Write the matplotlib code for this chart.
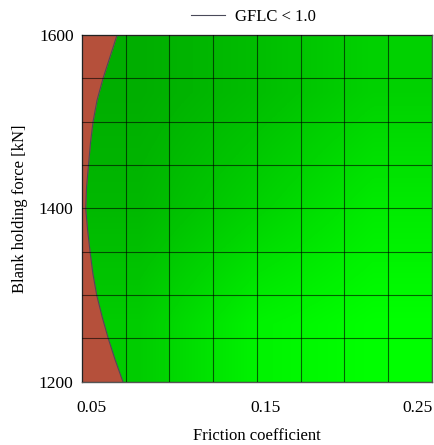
import numpy as np
import matplotlib.pyplot as plt
from matplotlib.colors import LinearSegmentedColormap
from matplotlib.transforms import ScaledTranslation

plt.rcParams['font.family'] = ['Liberation Serif', 'DejaVu Serif']

# GFLC = 1.0 boundary (force [kN] -> friction coefficient)
force = [1200, 1225, 1250, 1275, 1300, 1325, 1350, 1375, 1400,
         1425, 1450, 1475, 1500, 1525, 1550, 1575, 1600]
mu_limit = [0.0734, 0.069, 0.065, 0.0615, 0.0584, 0.0562, 0.0546, 0.0532, 0.0521,
            0.0526, 0.0537, 0.0548, 0.0563, 0.0586, 0.062, 0.066, 0.070]

# shading level of the safe zone (rows: 1600, 1400, 1200 / cols: 0.05, 0.15, 0.25)
green_level = [[0.68, 0.74, 0.82],
               [0.72, 0.82, 0.92],
               [0.80, 0.95, 1.00]]

x_ticks = [0.05, 0.15, 0.25]
y_ticks = [1200, 1400, 1600]

fig = plt.figure(figsize=(4.34, 4.45), dpi=100)
ax = fig.add_axes([0.189, 0.142, 0.806, 0.779])

greens = LinearSegmentedColormap.from_list('g', [(0, 0, 0), (0, 1, 0)])
ax.imshow(green_level, cmap=greens, vmin=0, vmax=1, extent=(0.05, 0.25, 1200, 1600),
          aspect='auto', interpolation='bilinear', zorder=0)

ax.fill_betweenx(force, 0.05, mu_limit, color='#b5503b', lw=0, zorder=1)
ax.plot(mu_limit, force, color='#4a4a5a', lw=0.8, zorder=2, label='GFLC < 1.0')

ax.set_xlim(0.05, 0.25)
ax.set_ylim(1200, 1600)
ax.set_xticks(np.arange(0.05, 0.2501, 0.025), minor=True)
ax.set_yticks(np.arange(1200, 1601, 50), minor=True)
ax.set_xticks(x_ticks)
ax.set_yticks(y_ticks)
ax.set_xticklabels(['0.05', '0.15', '0.25'])
ax.set_yticklabels(['1200', '1400', '1600'])
ax.grid(which='both', color='black', lw=0.8, alpha=0.6)
ax.set_axisbelow(False)
ax.tick_params(which='both', length=0, labelsize=12.5)
ax.tick_params(axis='x', pad=13)
ax.tick_params(axis='y', pad=6)
for lab, dx in zip(ax.get_xticklabels(), [9, 9, -14]):
    lab.set_transform(lab.get_transform() + ScaledTranslation(dx / 100, 0, fig.dpi_scale_trans))

for s in ax.spines.values():
    s.set_color('#555555')
    s.set_linewidth(1)

ax.set_xlabel('Friction coefficient', fontsize=12, labelpad=9)
ax.set_ylabel('Blank holding force [kN]', fontsize=12, labelpad=8)

ax.legend(loc='lower center', bbox_to_anchor=(0.49, 1.0), frameon=False, fontsize=12,
          handlelength=2.0, handletextpad=0.6, borderaxespad=0.2)

fig.savefig('out.png', dpi=100)
